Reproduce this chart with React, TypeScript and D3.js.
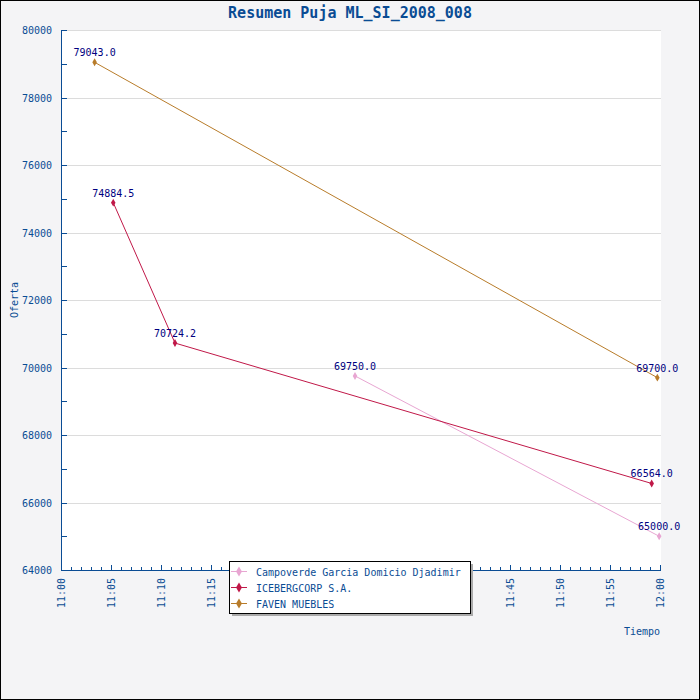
import React, { useEffect, useRef } from 'react';
import * as d3 from 'd3';

// bid series (time as "HH:MM:SS", value)
const campoTimes = ['11:29:27', '11:59:55'];
const campoValues = [69750.0, 65000.0];
const iceTimes = ['11:05:14', '11:11:25', '11:59:10'];
const iceValues = [74884.5, 70724.2, 66564.0];
const favenTimes = ['11:03:22', '11:59:44'];
const favenValues = [79043.0, 69700.0];

const seriesNames = ['Campoverde Garcia Domicio Djadimir', 'ICEBERGCORP S.A.', 'FAVEN MUEBLES'];
const seriesColors = ['#e8a6d2', '#c01848', '#b87c2a'];

const title = 'Resumen Puja ML_SI_2008_008';
const yLabel = 'Oferta';
const xLabel = 'Tiempo';

const parse = (t: string) => d3.timeParse('%Y-%m-%d %H:%M:%S')('2008-01-01 ' + t) as Date;

const App: React.FC = () => {
    const ref = useRef<SVGSVGElement>(null);

    useEffect(() => {
        document.body.style.margin = '0';
        const W = 700, H = 700;
        const svg = d3.select(ref.current);
        svg.selectAll('*').remove();
        svg.attr('width', W).attr('height', H);

        const font = 'DejaVu Sans Mono, monospace';
        const axisColor = '#0a4c94';

        svg.append('rect').attr('x', 0.5).attr('y', 0.5).attr('width', W - 1).attr('height', H - 1)
            .attr('fill', '#f4f4f6').attr('stroke', '#000');

        const left = 61, right = 660, top = 30, bottom = 570;
        svg.append('rect').attr('x', left).attr('y', top).attr('width', right - left + 1).attr('height', bottom - top)
            .attr('fill', '#fff');

        const x = d3.scaleTime().domain([parse('11:00:00'), parse('12:00:00')]).range([left, right]);
        const y = d3.scaleLinear().domain([64000, 80000]).range([bottom, top]);

        // grid
        const yMajor = d3.range(64000, 80001, 2000);
        svg.append('g').selectAll('line').data(yMajor.slice(1)).enter().append('line')
            .attr('x1', left).attr('x2', right + 1)
            .attr('y1', d => Math.round(y(d)) + 0.5).attr('y2', d => Math.round(y(d)) + 0.5)
            .attr('stroke', '#dcdcdc');

        // y axis
        const ya = svg.append('g');
        ya.append('line').attr('x1', left + 0.5).attr('x2', left + 0.5).attr('y1', top).attr('y2', bottom + 1)
            .attr('stroke', axisColor);
        ya.selectAll('.t').data(d3.range(64000, 80001, 1000)).enter().append('line')
            .attr('x1', left).attr('x2', left + 6)
            .attr('y1', d => Math.round(y(d)) + 0.5).attr('y2', d => Math.round(y(d)) + 0.5)
            .attr('stroke', axisColor);
        ya.selectAll('text').data(yMajor).enter().append('text')
            .attr('x', 52).attr('y', d => y(d) + 4)
            .attr('text-anchor', 'end').attr('font-family', font).attr('font-size', 10)
            .attr('fill', axisColor).text(d => String(d));

        // x axis
        const xa = svg.append('g');
        xa.append('line').attr('x1', left).attr('x2', right + 1).attr('y1', bottom + 0.5).attr('y2', bottom + 0.5)
            .attr('stroke', axisColor);
        const minutes = x.ticks(d3.timeMinute.every(1));
        xa.selectAll('.t').data(minutes).enter().append('line')
            .attr('x1', d => Math.round(x(d)) + 0.5).attr('x2', d => Math.round(x(d)) + 0.5)
            .attr('y1', bottom).attr('y2', d => bottom - (d.getMinutes() % 5 === 0 ? 5 : 3))
            .attr('stroke', axisColor);
        const fmt = d3.timeFormat('%H:%M');
        xa.selectAll('text').data(x.ticks(d3.timeMinute.every(5))).enter().append('text')
            .attr('transform', d => `translate(${x(d) + 4},578) rotate(-90)`)
            .attr('text-anchor', 'end').attr('font-family', font).attr('font-size', 10)
            .attr('fill', axisColor).text(d => fmt(d));

        // titles
        svg.append('text').attr('x', 350).attr('y', 18).attr('text-anchor', 'middle')
            .attr('font-family', font).attr('font-size', 15).attr('font-weight', 'bold')
            .attr('fill', axisColor).text(title);
        svg.append('text').attr('transform', 'translate(18,300) rotate(-90)').attr('text-anchor', 'middle')
            .attr('font-family', font).attr('font-size', 10).attr('fill', axisColor).text(yLabel);
        svg.append('text').attr('x', 660).attr('y', 635).attr('text-anchor', 'end')
            .attr('font-family', font).attr('font-size', 10).attr('fill', axisColor).text(xLabel);

        // series
        const series = [
            { times: campoTimes, values: campoValues },
            { times: iceTimes, values: iceValues },
            { times: favenTimes, values: favenValues },
        ];
        const diamond = d3.symbol().type(d3.symbolDiamond).size(18);
        const line = d3.line<{ t: Date; v: number }>().x(d => x(d.t)).y(d => y(d.v));

        series.forEach((s, i) => {
            const pts = s.times.map((t, j) => ({ t: parse(t), v: s.values[j] }));
            const g = svg.append('g');
            g.append('path').attr('d', line(pts)).attr('fill', 'none')
                .attr('stroke', seriesColors[i]).attr('stroke-width', 1);
            g.selectAll('path.m').data(pts).enter().append('path').attr('class', 'm')
                .attr('d', diamond).attr('transform', d => `translate(${x(d.t)},${y(d.v)})`)
                .attr('fill', seriesColors[i]);
        });
        // value labels on top
        series.forEach(s => {
            svg.append('g').selectAll('text').data(s.times.map((t, j) => ({ t: parse(t), v: s.values[j] })))
                .enter().append('text')
                .attr('x', d => x(d.t)).attr('y', d => y(d.v) - 6)
                .attr('text-anchor', 'middle').attr('font-family', font).attr('font-size', 10)
                .attr('fill', '#000080').text(d => d.v.toFixed(1));
        });

        // legend
        const lx = 229, ly = 561, lw = 241, lh = 52;
        svg.append('rect').attr('x', lx + 3).attr('y', ly + 3).attr('width', lw).attr('height', lh).attr('fill', '#aaa');
        svg.append('rect').attr('x', lx + 0.5).attr('y', ly + 0.5).attr('width', lw).attr('height', lh)
            .attr('fill', '#fff').attr('stroke', '#000');
        const lg = svg.append('g').selectAll('g').data(seriesNames).enter().append('g')
            .attr('transform', (d, i) => `translate(${lx},${ly + 10.5 + i * 16})`);
        lg.append('line').attr('x1', 2).attr('x2', 18).attr('stroke', (d, i) => seriesColors[i]);
        lg.append('path').attr('d', d3.symbol().type(d3.symbolDiamond).size(30))
            .attr('transform', 'translate(10,0)').attr('fill', (d, i) => seriesColors[i]);
        lg.append('text').attr('x', 27).attr('y', 4).attr('font-family', font).attr('font-size', 10)
            .attr('fill', axisColor).text(d => d);
    }, []);

    return <svg ref={ref}></svg>;
};

export default App;
